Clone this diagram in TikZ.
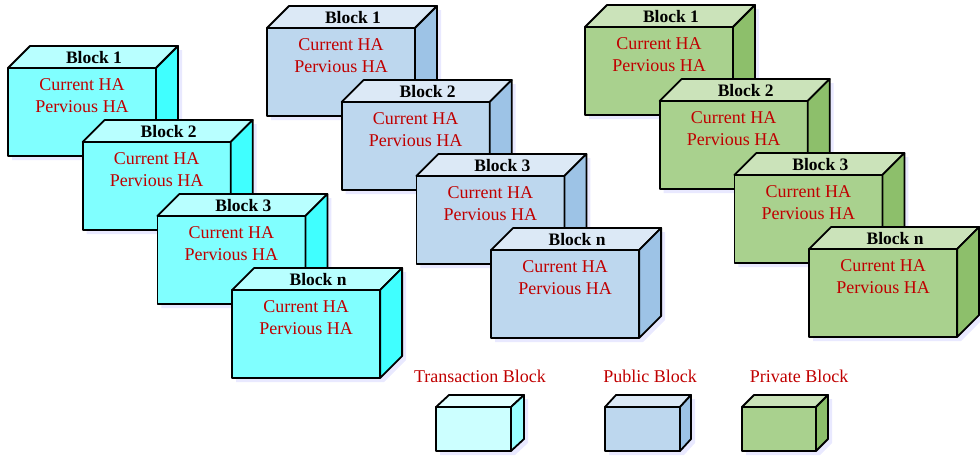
\documentclass[tikz,border=0pt]{standalone}
\usepackage{fontspec}
\setmainfont{Liberation Serif}
\definecolor{hared}{HTML}{C00000}
\definecolor{txfront}{HTML}{80FFFF}
\definecolor{txtop}{HTML}{B8FFFF}
\definecolor{txside}{HTML}{40FFFF}
\definecolor{pubfront}{HTML}{BDD7EE}
\definecolor{pubtop}{HTML}{DCE9F6}
\definecolor{pubside}{HTML}{9DC3E6}
\definecolor{privfront}{HTML}{A9D18E}
\definecolor{privtop}{HTML}{CBE3BA}
\definecolor{privside}{HTML}{8DBF6B}
\definecolor{keytxfront}{HTML}{CCFFFF}
\definecolor{keytxtop}{HTML}{E2FFFF}
\definecolor{keytxside}{HTML}{99FFFF}
\tikzset{
  face/.style={draw=black, line width=1.8pt, line join=round},
  shade/.style={fill=blue!25, opacity=.35},
  blocklabel/.style={font=\fontsize{17.5}{19}\selectfont\bfseries, inner sep=0pt},
  hatext/.style={font=\fontsize{18}{22}\selectfont, text=hared, align=center, inner sep=0pt},
}
% box: front top-left x, y, width, height, depth x, depth y, colour set
\newcommand{\drawbox}[7]{
  \fill[shade] (#1+4, #2+4) -- ++(#5, -#6) -- ++(#3, 0) -- ++(0, #4)
    -- ++(-#5, #6) -- ++(-#3, 0) -- cycle;
  \filldraw[face, fill=#7front] (#1, #2) rectangle ++(#3, #4);
  \filldraw[face, fill=#7top] (#1, #2) -- ++(#5, -#6) -- ++(#3, 0)
    -- ++(-#5, #6) -- cycle;
  \filldraw[face, fill=#7side] (#1+#3, #2) -- ++(#5, -#6) -- ++(0, #4)
    -- ++(-#5, #6) -- cycle;
}
% block of a chain: x, y, colour set, name, number
\newcommand{\drawblock}[5]{
  \drawbox{#1}{#2}{148}{88}{22}{22}{#3}
  \node[blocklabel] (#4-b#5) at (#1 + 86, #2 - 10.5) {Block #5};
  \node[hatext] (#4-h#5) at (#1 + 74, #2 + 28) {Current HA\\Pervious HA};
}

\begin{document}
\begin{tikzpicture}[x=1pt, y=-1pt]
  \useasboundingbox (0, 0) rectangle (980, 458);
  \foreach \i/\n in {0/1, 1/2, 2/3, 3/n}{
    \drawblock{8 + 74.7*\i}{68 + 74*\i}{tx}{tx}{\n}
  }
  \foreach \i/\n in {0/1, 1/2, 2/3, 3/n}{
    \drawblock{267 + 74.7*\i}{28 + 74*\i}{pub}{pub}{\n}
  }
  \foreach \i/\n in {0/1, 1/2, 2/3, 3/n}{
    \drawblock{585 + 74.7*\i}{27 + 74*\i}{priv}{priv}{\n}
  }
  % key
  \drawbox{436}{407}{75}{44}{13}{12}{keytx}
  \drawbox{605}{407}{75}{44}{11}{12}{pub}
  \drawbox{742}{407}{74}{44}{12}{12}{priv}
  \node[hatext] (key-tx)   at (480, 376) {Transaction Block};
  \node[hatext] (key-pub)  at (650, 376) {Public Block};
  \node[hatext] (key-priv) at (799, 376) {Private Block};
\end{tikzpicture}
\end{document}
